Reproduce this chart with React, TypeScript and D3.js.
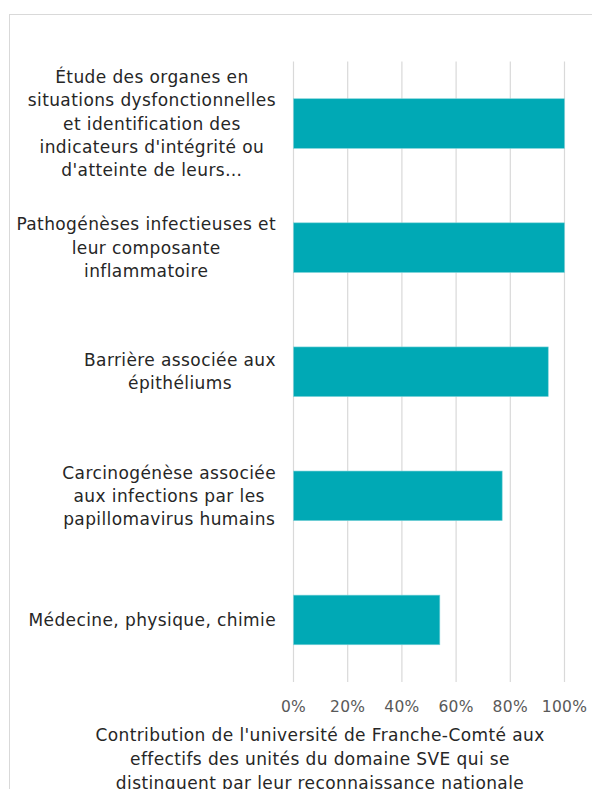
import React, { useEffect, useRef } from "react";
import * as d3 from "d3";

const categories: string[][] = [
  ["Étude des organes en", "situations dysfonctionnelles", "et identification des", "indicateurs d'intégrité ou", "d'atteinte de leurs…"],
  ["Pathogénèses infectieuses et", "leur composante", "inflammatoire"],
  ["Barrière associée aux", "épithéliums"],
  ["Carcinogénèse associée", "aux infections par les", "papillomavirus humains"],
  ["Médecine, physique, chimie"],
];
const values: number[] = [1.0, 1.0, 0.94, 0.77, 0.54];
const ticks: number[] = [0, 0.2, 0.4, 0.6, 0.8, 1.0];
const titleLines: string[] = [
  "Contribution de l'université de Franche-Comté aux",
  "effectifs des unités du domaine SVE qui se",
  "distinguent par leur reconnaissance nationale",
];

const W = 592;
const H = 789;
const FONT = "'DejaVu Sans', sans-serif";

export default function App() {
  const ref = useRef<SVGSVGElement | null>(null);

  useEffect(() => {
    const svg = d3.select(ref.current);
    svg.selectAll("*").remove();

    const left = 293.5;
    const right = 564.5;
    const top = 61.5;
    const bottom = 682;

    svg.append("rect").attr("x", 9.5).attr("y", 14.5).attr("width", 640).attr("height", 800)
      .attr("fill", "#fff").attr("stroke", "#d9d9d9").attr("stroke-width", 1);

    const x = d3.scaleLinear().domain([0, 1]).range([left, right]);
    const y = d3.scaleBand<number>().domain(d3.range(categories.length)).range([top, bottom]).paddingInner(0.6).paddingOuter(0.3);

    svg.append("g").selectAll("line").data(ticks).join("line")
      .attr("x1", (d) => x(d)).attr("x2", (d) => x(d))
      .attr("y1", top).attr("y2", bottom)
      .attr("stroke", "#d9d9d9").attr("stroke-width", 1.2);

    svg.append("g").selectAll("rect").data(values).join("rect")
      .attr("x", x(0)).attr("y", (_, i) => y(i)!)
      .attr("width", (d) => x(d) - x(0)).attr("height", y.bandwidth())
      .attr("fill", "#00A9B5").attr("stroke", "#7fd3d9").attr("stroke-width", 0.6);

    svg.append("g").selectAll("text").data(ticks).join("text")
      .attr("x", (d) => x(d)).attr("y", 707).attr("dy", "0.35em")
      .attr("text-anchor", "middle").attr("font-family", FONT).attr("font-size", 15.5)
      .attr("letter-spacing", 0.3)
      .attr("fill", "#595959").text((d) => d3.format(".0%")(d));

    const lh = 23.3;
    const labelRight = 276;
    categories.forEach((lines, i) => {
      const cy = y(i)! + y.bandwidth() / 2;
      const g = svg.append("g");
      const texts = g.selectAll("text").data(lines).join("text")
        .attr("y", (_, j) => cy + (j - (lines.length - 1) / 2) * lh).attr("dy", "0.35em")
        .attr("font-family", FONT).attr("font-size", 17).attr("letter-spacing", 0.4).attr("fill", "#262626")
        .attr("text-anchor", "middle").text((d) => d);
      let maxW = 0;
      texts.each(function () {
        maxW = Math.max(maxW, (this as SVGTextElement).getComputedTextLength());
      });
      texts.attr("x", labelRight - maxW / 2);
    });

    svg.append("g").selectAll("text").data(titleLines).join("text")
      .attr("x", 320).attr("y", (_, j) => 735 + j * 24).attr("dy", "0.35em")
      .attr("text-anchor", "middle").attr("font-family", FONT).attr("font-size", 17).attr("letter-spacing", 0.4)
      .attr("fill", "#262626").text((d) => d);
  }, []);

  return (
    <svg ref={ref} width={W} height={H} style={{ position: "absolute", left: 0, top: 0, background: "#fff" }} />
  );
}
